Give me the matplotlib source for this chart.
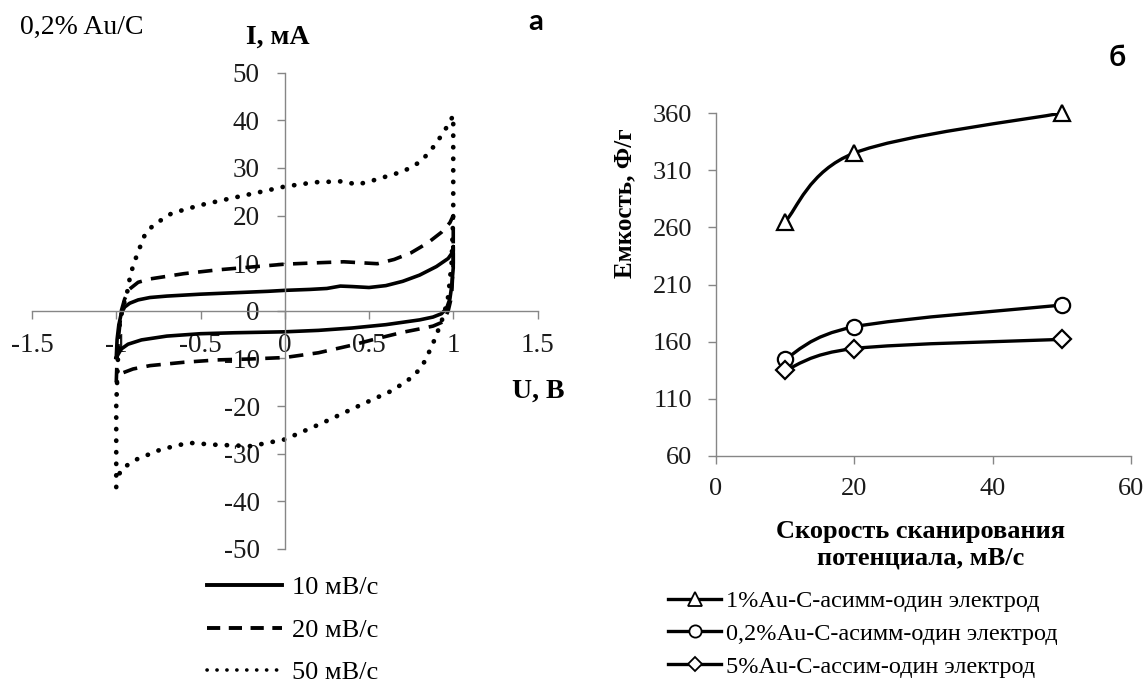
import numpy as np
import matplotlib
matplotlib.use('Agg')
import matplotlib.pyplot as plt
from matplotlib.path import Path
from matplotlib.patches import PathPatch
from matplotlib.lines import Line2D

plt.rcParams['font.family'] = ['Liberation Serif', 'DejaVu Serif']
plt.rcParams['axes.unicode_minus'] = False

# --- CV data, 0,2% Au/C (U, V ; I, mA) ---
u10 = [-1.0, -0.995, -0.985, -0.97, -0.95, -0.92, -0.87, -0.8, -0.7, -0.5, -0.3, -0.1, 0.0,
       0.15, 0.25, 0.33, 0.4, 0.5, 0.6, 0.7, 0.8, 0.9, 0.97, 1.0, 1.0,
       1.0, 0.99, 0.98, 0.96, 0.93, 0.88, 0.8, 0.6, 0.4, 0.2, 0.0, -0.3, -0.5, -0.7,
       -0.85, -0.93, -0.97, -1.0]
i10 = [-9.8, -6.0, -3.0, -0.5, 0.8, 1.6, 2.3, 2.8, 3.1, 3.5, 3.8, 4.1, 4.3,
       4.5, 4.7, 5.2, 5.1, 4.9, 5.3, 6.2, 7.5, 9.3, 11.0, 12.5, 13.5,
       9.0, 5.0, 2.5, 0.5, -0.6, -1.3, -1.9, -2.9, -3.6, -4.1, -4.4, -4.6, -4.8, -5.3,
       -6.1, -7.0, -8.0, -9.8]

u20 = [-1.0, -0.995, -0.985, -0.97, -0.95, -0.92, -0.87, -0.8, -0.6, -0.4, -0.2, 0.0,
       0.2, 0.35, 0.45, 0.55, 0.65, 0.75, 0.85, 0.93, 0.98, 1.0,
       1.0, 0.99, 0.97, 0.94, 0.88, 0.8, 0.7, 0.55, 0.4, 0.2, 0.0, -0.2, -0.4, -0.6,
       -0.8, -0.9, -0.96, -1.0]
i20 = [-15.0, -10.0, -5.0, 0.0, 2.5, 4.6, 6.0, 6.7, 7.8, 8.6, 9.2, 9.8,
       10.1, 10.3, 10.1, 9.9, 10.8, 12.2, 14.3, 16.5, 18.5, 20.0,
       10.0, 3.0, 0.0, -2.3, -3.2, -3.8, -4.5, -5.8, -7.2, -8.8, -9.8, -10.1, -10.3, -10.8,
       -11.5, -12.2, -13.0, -15.0]

u50 = [-1.0, -1.0, -1.0, -0.99, -0.98, -0.96, -0.94, -0.92, -0.9, -0.87, -0.83, -0.78,
       -0.67, -0.5, -0.31, -0.14, 0.0, 0.18, 0.345, 0.43, 0.536, 0.705, 0.81, 0.896,
       0.96, 1.0, 1.0, 1.0, 0.99, 0.97, 0.95, 0.928, 0.886, 0.833, 0.77, 0.64, 0.43,
       0.22, 0.0, -0.2, -0.42, -0.57, -0.735, -0.88, -0.97, -1.0]
i50 = [-37.0, -30.0, -20.0, -10.0, -3.0, 1.0, 3.0, 6.8, 9.5, 12.4, 16.0, 18.0,
       20.5, 22.2, 23.7, 25.0, 26.1, 27.0, 27.2, 26.5, 27.5, 29.3, 31.4, 35.0,
       38.5, 41.0, 30.0, 20.0, 10.0, 3.0, 0.0, -2.5, -6.3, -10.5, -13.6, -16.7, -20.1,
       -23.6, -27.0, -28.4, -28.1, -27.7, -29.1, -31.2, -33.2, -36.0]

cv_labels = ['10 мВ/с', '20 мВ/с', '50 мВ/с']
u_ticks = [-1.5, -1, -0.5, 0, 0.5, 1, 1.5]
u_ticklabels = ['-1.5', '-1', '-0.5', '0', '0.5', '1', '1.5']

# --- capacitance vs scan rate ---
scan_rate = [10, 20, 50]
cap_1 = [265, 325, 360]
cap_02 = [145, 173, 192]
cap_5 = [135, 154, 162]
cap_labels = ['1%Au-C-асимм-один электрод', '0,2%Au-C-асимм-один электрод',
              '5%Au-C-ассим-один электрод']

W, H = 1147, 686
fig = plt.figure(figsize=(W / 100, H / 100), dpi=100)


def fx(px):
    return px / W


def fy(py):
    return 1 - py / H


gray = '#868686'

# left panel: CV curves
ax1 = fig.add_axes([fx(32), fy(549), fx(537.5) - fx(32), fy(72.7) - fy(549)])
ax1.set_xlim(-1.5, 1.5)
ax1.set_ylim(-50, 50)
for s in ['top', 'right']:
    ax1.spines[s].set_visible(False)
ax1.spines['left'].set_position(('data', 0))
ax1.spines['bottom'].set_position(('data', 0))
for s in ['left', 'bottom']:
    ax1.spines[s].set_color(gray)
    ax1.spines[s].set_linewidth(1.0)
ax1.set_xticks(u_ticks)
ax1.set_xticklabels(u_ticklabels)
ax1.set_yticks(np.arange(-50, 51, 10))
ax1.tick_params(axis='both', colors=gray, labelcolor='#1a1a1a', length=6, width=1.0,
                labelsize=19.5)
ax1.tick_params(axis='y', pad=12)
ax1.tick_params(axis='x', pad=10)
ax1.patch.set_alpha(0)

ax1.plot(u10, i10, color='black', lw=2.6, solid_joinstyle='round')
ax1.plot(u20, i20, color='black', lw=2.6, linestyle=(0, (4.0, 2.6)))
ax1.plot(u50, i50, color='black', lw=3.4, linestyle=(0, (0.05, 2.4)),
         dash_capstyle='round')

h10 = Line2D([], [], color='black', lw=2.8)
h20 = Line2D([], [], color='black', lw=2.8, linestyle=(0, (3.4, 2.2)))
h50 = Line2D([], [], color='black', lw=2.6, linestyle=(0, (0.05, 2.7)),
             dash_capstyle='round')
fig.legend([h10, h20, h50], cv_labels, loc='upper left',
           bbox_to_anchor=(fx(207), fy(576)), frameon=False, fontsize=19,
           handlelength=2.85, handletextpad=0.36, labelspacing=0.72,
           borderpad=0, borderaxespad=0)

fig.text(fx(20), fy(27), '0,2% Au/C', fontsize=20, va='center', ha='left')
fig.text(fx(278), fy(37), 'I, мА', fontsize=20, fontweight='bold', va='center', ha='center')
fig.text(fx(512), fy(391), 'U, В', fontsize=20, fontweight='bold', va='center', ha='left')
fig.text(fx(536), fy(22), 'а', fontsize=21, fontweight='bold', va='center', ha='center',
         family='Lato')

# right panel: capacitance
ax2 = fig.add_axes([fx(716), fy(456), fx(1131) - fx(716), fy(113) - fy(456)])
ax2.set_xlim(0, 60)
ax2.set_ylim(60, 360)
ax2.set_xticks([0, 20, 40, 60])
ax2.set_yticks(np.arange(60, 361, 50))
for s in ['top', 'right']:
    ax2.spines[s].set_visible(False)
for s in ['left', 'bottom']:
    ax2.spines[s].set_color(gray)
    ax2.spines[s].set_linewidth(1.0)
ax2.tick_params(axis='both', colors=gray, labelcolor='#1a1a1a', length=6, width=1.0,
                labelsize=19)
ax2.tick_params(axis='y', pad=11)
ax2.tick_params(axis='x', pad=10)


def smooth_path(xs, ys):
    # Excel-like smoothed line: cubic Bezier through the points
    pts = np.column_stack([xs, ys]).astype(float)
    ext = np.vstack([pts[0], pts, pts[-1]])
    verts = [pts[0]]
    codes = [Path.MOVETO]
    for k in range(len(pts) - 1):
        p0, p1, p2, p3 = ext[k], ext[k + 1], ext[k + 2], ext[k + 3]
        verts += [p1 + (p2 - p0) / 6, p2 - (p3 - p1) / 6, p2]
        codes += [Path.CURVE4] * 3
    return Path(verts, codes)


series = [(cap_1, '^', 12), (cap_02, 'o', 11), (cap_5, 'D', 9.5)]
handles = []
for vals, mk, ms in series:
    ax2.add_patch(PathPatch(smooth_path(scan_rate, vals), fill=False, lw=2.4,
                            edgecolor='black', capstyle='round', joinstyle='round'))
    ax2.plot(scan_rate, vals, linestyle='none', marker=mk, markersize=ms,
             markerfacecolor='white', markeredgecolor='black', markeredgewidth=1.6,
             zorder=3, clip_on=False)
    handles.append(Line2D([], [], color='black', lw=2.4, marker=mk, markersize=ms * 0.8,
                          markerfacecolor='white', markeredgecolor='black',
                          markeredgewidth=1.3))

fig.legend(handles, cap_labels, loc='upper left', bbox_to_anchor=(fx(668), fy(590)),
           frameon=False, fontsize=17.5, handlelength=2.2, handletextpad=0.2,
           labelspacing=0.45, borderpad=0, borderaxespad=0)

fig.text(fx(625), fy(278), 'Емкость, Ф/г', fontsize=18, fontweight='bold',
         rotation=90, va='bottom', ha='center')
fig.text(fx(921), fy(545), 'Скорость сканирования\nпотенциала, мВ/с', fontsize=19,
         fontweight='bold', va='center', ha='center', linespacing=1.2)
fig.text(fx(1117), fy(58), 'б', fontsize=21, fontweight='bold', va='center', ha='center',
         family='Lato')

fig.savefig('out.png', dpi=100)
